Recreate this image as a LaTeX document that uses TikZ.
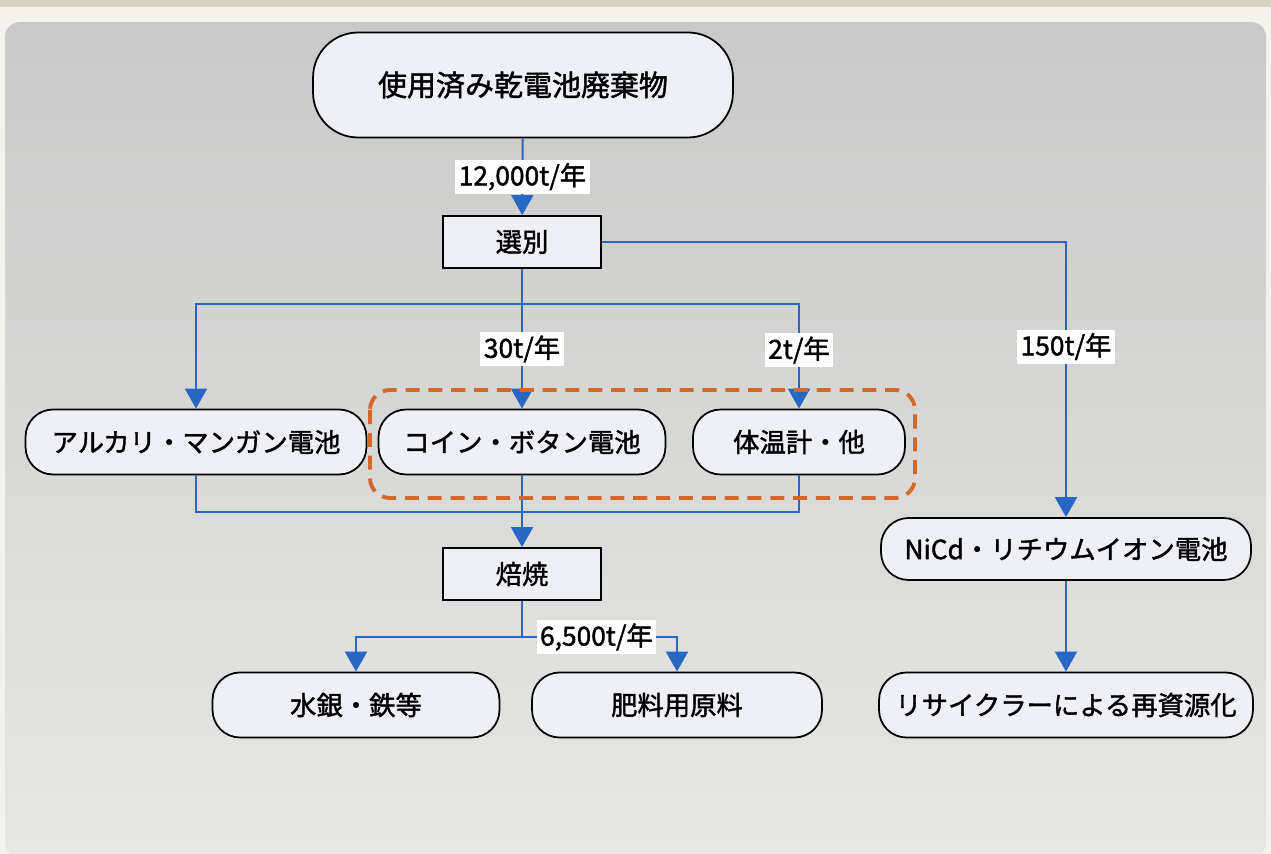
\documentclass[tikz,border=0pt]{standalone}
\usepackage{fontspec}
\setmainfont{Noto Sans CJK JP}[FakeBold=1.5]
\usetikzlibrary{arrows.meta}

\definecolor{flowblue}{RGB}{40,104,196}
\definecolor{boxfill}{RGB}{239,239,246}
\definecolor{dashorange}{RGB}{212,104,40}
\definecolor{paneltop}{RGB}{200,201,200}
\definecolor{panelbottom}{RGB}{231,231,229}
\definecolor{paper}{RGB}{244,242,237}
\definecolor{paperedge}{RGB}{217,210,195}

\tikzset{
  pill/.style={draw, line width=1pt, fill=boxfill, rounded corners=0.55cm,
    minimum height=1.3cm, font=\fontsize{15}{18}\selectfont},
  stepbox/.style={draw, line width=1pt, fill=boxfill, minimum width=3.16cm,
    minimum height=1.04cm, font=\fontsize{15}{18}\selectfont},
  flow/.style={flowblue, line width=1.1pt},
  arr/.style={flow, -{Triangle[width=0.44cm,length=0.4cm]}},
  rate/.style={fill=white, text=black, inner sep=2pt, minimum height=0.66cm,
    font=\fontsize{15}{17}\selectfont},
}

\begin{document}
\begin{tikzpicture}[x=0.02cm, y=-0.02cm]
    \useasboundingbox (0,0) rectangle (1271,854);

    % paper and grey panel
    \fill[paper] (0,0) rectangle (1271,854);
    \fill[paperedge] (0,0) rectangle (1271,7);
    \shade[top color=paneltop, bottom color=panelbottom, rounded corners=0.3cm]
        (5,22) rectangle (1266,858);

    % nodes
    \node[pill, minimum width=8.4cm, minimum height=2.1cm, rounded corners=0.9cm,
        font=\fontsize{16.5}{20}\selectfont] (waste) at (523,85) {使用済み乾電池廃棄物};
    \node[stepbox] (sort) at (522,242) {選別};
    \node[pill, minimum width=6.82cm] (alk) at (196,442) {アルカリ・マンガン電池};
    \node[pill, minimum width=5.74cm] (coin) at (522,442) {コイン・ボタン電池};
    \node[pill, minimum width=4.24cm] (therm) at (799,442) {体温計・他};
    \node[stepbox] (roast) at (522,574) {焙焼};
    \node[pill, minimum width=5.74cm] (mercury) at (356,705) {水銀・鉄等};
    \node[pill, minimum width=5.8cm] (fert) at (677,705) {肥料用原料};
    \node[pill, minimum width=7.4cm, minimum height=1.24cm] (nicd) at (1066,549) {NiCd・リチウムイオン電池};
    \node[pill, minimum width=7.48cm] (recyc) at (1066,705) {リサイクラーによる再資源化};

    % sorting
    \draw[arr] (waste) -- node[rate] {12,000t/年} (sort);
    \draw[arr] (sort.east) -| node[rate, pos=0.69] {150t/年} (nicd.north);
    \coordinate (split) at (522,304);
    \draw[flow] (sort.south) -- (split);
    \draw[arr] (split) -| (alk.north);
    \draw[arr] (split) -- node[rate, pos=0.43] {30t/年} (coin.north);
    \draw[arr] (split) -| node[rate, pos=0.72] {2t/年} (therm.north);

    % roasting
    \coordinate (merge) at (522,512);
    \draw[flow] (alk.south) |- (merge) -| (therm.south);
    \draw[arr] (coin.south) -- (roast.north);
    \coordinate (fork) at (522,637);
    \draw[flow] (roast.south) -- (fork);
    \draw[arr] (fork) -| (mercury.north);
    \draw[arr] (fork) -| node[rate, pos=0.24] {6,500t/年} (fert.north);

    % recycling
    \draw[arr] (nicd) -- (recyc);

    % small batteries group
    \draw[dashorange, line width=2.2pt, dash pattern=on 8pt off 5pt, rounded corners=0.4cm]
        (370,390) rectangle (915,498);
\end{tikzpicture}
\end{document}
